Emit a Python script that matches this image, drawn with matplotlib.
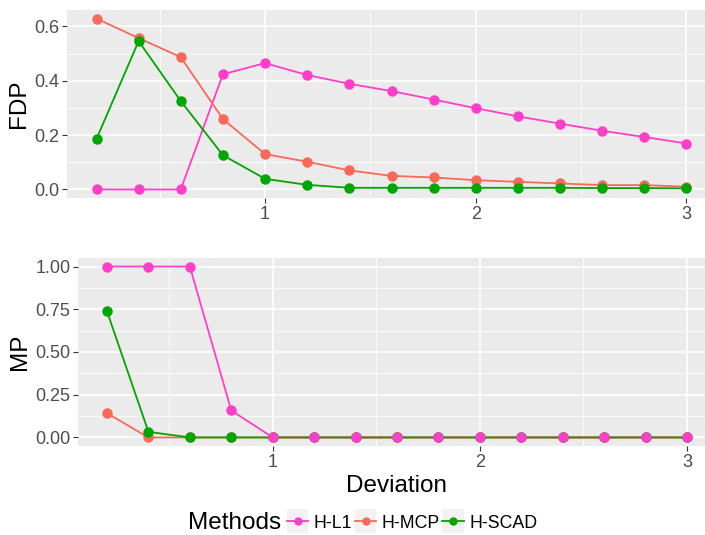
import matplotlib
matplotlib.use("Agg")
import matplotlib.pyplot as plt
from matplotlib.lines import Line2D
from matplotlib.patches import Rectangle
from matplotlib.legend_handler import HandlerLine2D
import numpy as np

plt.rcParams['font.family'] = ['Liberation Sans', 'DejaVu Sans']

deviation = [0.2, 0.4, 0.6, 0.8, 1.0, 1.2, 1.4, 1.6, 1.8, 2.0, 2.2, 2.4, 2.6, 2.8, 3.0]
methods = ["H-L1", "H-MCP", "H-SCAD"]

fdp_l1 = [0.0, 0.0, 0.0, 0.424, 0.465, 0.421, 0.389, 0.362, 0.331, 0.299, 0.269, 0.242, 0.216, 0.193, 0.169]
fdp_mcp = [0.629, 0.557, 0.487, 0.259, 0.130, 0.102, 0.070, 0.050, 0.044, 0.034, 0.028, 0.022, 0.016, 0.016, 0.010]
fdp_scad = [0.186, 0.546, 0.325, 0.126, 0.039, 0.017, 0.006, 0.006, 0.006, 0.006, 0.006, 0.006, 0.005, 0.005, 0.004]

mp_l1 = [1.0, 1.0, 1.0, 0.158, 0, 0, 0, 0, 0, 0, 0, 0, 0, 0, 0]
mp_mcp = [0.142, 0.0, 0, 0, 0, 0, 0, 0, 0, 0, 0, 0, 0, 0, 0]
mp_scad = [0.738, 0.033, 0, 0, 0, 0, 0, 0, 0, 0, 0, 0, 0, 0, 0]

colors = {"H-L1": "#FF3EC9", "H-MCP": "#F8695A", "H-SCAD": "#00A600"}

W, H = 705, 535
fig = plt.figure(figsize=(W / 100, H / 100), dpi=100)

def px_axes(left, top, right, bottom):
    return fig.add_axes([left / W, 1 - bottom / H, (right - left) / W, (bottom - top) / H])

ax1 = px_axes(67, 10, 716, 198)
ax2 = px_axes(78, 258, 716, 446)

def style(ax, yticks, ylabels, ylim, minor_y):
    ax.set_facecolor("#EBEBEB")
    for s in ax.spines.values():
        s.set_visible(False)
    ax.set_xlim(0.06, 3.14)
    ax.set_ylim(*ylim)
    ax.set_xticks([1, 2, 3])
    ax.set_xticklabels(["1", "2", "3"])
    ax.set_xticks([0.5, 1.5, 2.5], minor=True)
    ax.set_yticks(yticks)
    ax.set_yticklabels(ylabels)
    ax.set_yticks(minor_y, minor=True)
    ax.grid(which="major", color="white", linewidth=1.1)
    ax.grid(which="minor", color="white", linewidth=0.55)
    ax.set_axisbelow(True)
    ax.tick_params(which="major", length=3.5, width=0.8, color="#333333",
                   labelsize=13, labelcolor="#4D4D4D", pad=2)
    ax.tick_params(which="minor", length=0)

def draw(ax, series):
    for m in methods:
        ax.plot(deviation, series[m], color=colors[m], linewidth=1.3, zorder=3)
    for m in ["H-MCP", "H-SCAD", "H-L1"]:
        ax.plot(deviation, series[m], linestyle="none", marker="o", markersize=6.5,
                color=colors[m], zorder=4)

draw(ax1, {"H-L1": fdp_l1, "H-MCP": fdp_mcp, "H-SCAD": fdp_scad})
draw(ax2, {"H-L1": mp_l1, "H-MCP": mp_mcp, "H-SCAD": mp_scad})

style(ax1, [0, 0.2, 0.4, 0.6], ["0.0", "0.2", "0.4", "0.6"], (-0.0315, 0.6605), [0.1, 0.3, 0.5])
style(ax2, [0, 0.25, 0.5, 0.75, 1.0], ["0.00", "0.25", "0.50", "0.75", "1.00"], (-0.05, 1.05),
      [0.125, 0.375, 0.625, 0.875])

ax1.set_ylabel("FDP", fontsize=17.5, labelpad=3)
ax2.set_ylabel("MP", fontsize=17.5, labelpad=3)
ax2.set_xlabel("Deviation", fontsize=17.5, labelpad=3)


class KeyHandler(HandlerLine2D):
    def create_artists(self, legend, orig_handle, xdescent, ydescent, width, height, fontsize, trans):
        arts = super().create_artists(legend, orig_handle, xdescent, ydescent, width, height, fontsize, trans)
        bw, bh = width, 17
        bg = Rectangle((-xdescent, height / 2 - ydescent - bh / 2), bw, bh,
                       facecolor="#F2F2F2", edgecolor="none", transform=trans)
        return [bg] + list(arts)


handles = [Line2D([], [], color=colors[m], linewidth=1.3, marker="o", markersize=5) for m in methods]
fig.text(235 / W, 1 - 523 / H, "Methods", fontsize=17.5, ha="center", va="center")
leg = fig.legend(handles, methods, loc="center left", bbox_to_anchor=(287 / W, 1 - 523 / H),
                 ncol=3, frameon=False, fontsize=12.8, handlelength=1.2, handletextpad=0.3,
                 columnspacing=0.15, borderpad=0, borderaxespad=0,
                 handler_map={Line2D: KeyHandler()})

fig.savefig("out.png", dpi=100)
